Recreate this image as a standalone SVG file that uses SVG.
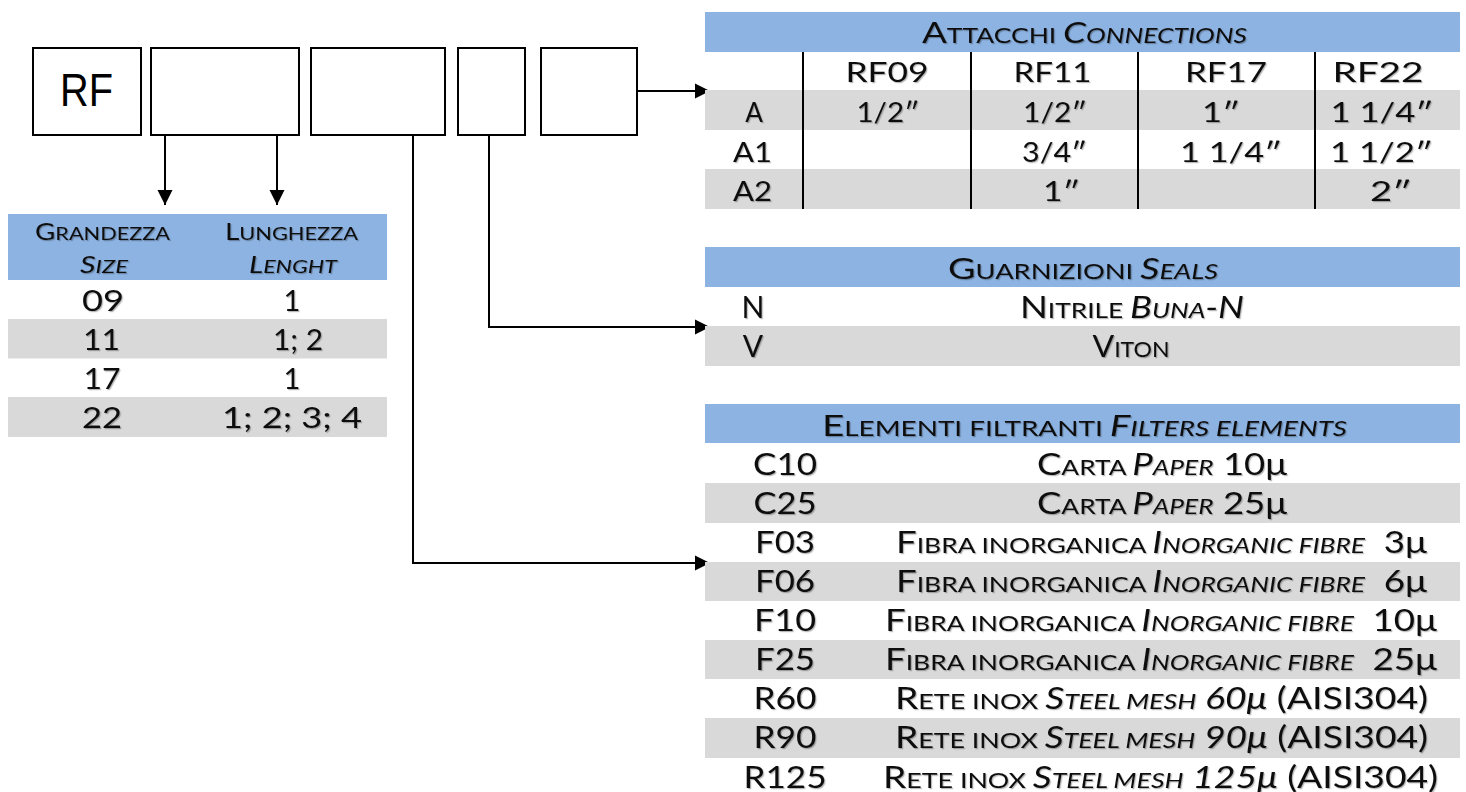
<svg xmlns="http://www.w3.org/2000/svg" width="1466" height="792" viewBox="0 0 1466 792">
<style>
.t{font-family:Lato,"Open Sans","DejaVu Sans",sans-serif;fill:#111;filter:url(#sh);text-anchor:middle}
.s{font-size:0.72em}
.ls{font-size:0.78em}
.i{font-style:italic}
.hdr{fill:#8DB3E2}
.gry{fill:#D9D9D9}
.box{fill:#fff;stroke:#000;stroke-width:2}
.ln{fill:none;stroke:#000;stroke-width:2}
.ar{marker-end:url(#arr)}
.vl{stroke:#000;stroke-width:2}
.h29{font-size:29px}
.r26{font-size:26px}
.r30{font-size:30px}
.l23{font-size:23px}
.l29{font-size:29px}
</style>
<defs>
<filter id="sh" x="-5%" y="-30%" width="110%" height="160%">
<feDropShadow dx="1.2" dy="1.2" stdDeviation="0.6" flood-color="#000" flood-opacity="0.28"/>
</filter>
<marker id="arr" markerUnits="userSpaceOnUse" markerWidth="16" markerHeight="16" refX="15" refY="8" orient="auto">
<path d="M0,0.5 L15,8 L0,15.5 z" fill="#000"/>
</marker>
</defs>

<g id="box-rf">
<rect class="box" x="33" y="48" width="108" height="87"/>
<text x="86.5" y="106" font-family="'Liberation Sans',Arial,sans-serif" font-size="47" text-anchor="middle" textLength="53" lengthAdjust="spacingAndGlyphs">RF</text>
</g>
<g id="box-size-length"><rect class="box" x="151" y="48" width="148" height="87"/></g>
<g id="box-filter"><rect class="box" x="311" y="48" width="134" height="87"/></g>
<g id="box-seal"><rect class="box" x="458" y="48" width="67" height="87"/></g>
<g id="box-connection"><rect class="box" x="541" y="48" width="96" height="87"/></g>

<g id="connectors">
<line class="ln ar" x1="165" y1="135" x2="165" y2="205"/>
<line class="ln ar" x1="277" y1="135" x2="277" y2="205"/>
<line class="ln ar" x1="637" y1="91" x2="710" y2="91"/>
<polyline class="ln ar" points="489,135 489,327 710,327"/>
<polyline class="ln ar" points="413,135 413,563 710,563"/>
</g>

<g id="table-size">
<rect class="hdr" x="8" y="214" width="379" height="66"/>
<rect class="gry" x="8" y="319" width="379" height="39.5"/>
<rect class="gry" x="8" y="397" width="379" height="40"/>
<text class="t l23" x="102.5" y="240" textLength="135" lengthAdjust="spacingAndGlyphs">G<tspan class="ls">RANDEZZA</tspan></text>
<text class="t l23 i" x="104" y="273" textLength="48" lengthAdjust="spacingAndGlyphs">S<tspan class="ls">IZE</tspan></text>
<text class="t l23" x="291.5" y="240" textLength="133" lengthAdjust="spacingAndGlyphs">L<tspan class="ls">UNGHEZZA</tspan></text>
<text class="t l23 i" x="293" y="273" textLength="88" lengthAdjust="spacingAndGlyphs">L<tspan class="ls">ENGHT</tspan></text>
<text class="t l29" x="103" y="311" textLength="42" lengthAdjust="spacingAndGlyphs">09</text>
<text class="t l29" x="292" y="311">1</text>
<text class="t l29" x="101.5" y="350" textLength="37" lengthAdjust="spacingAndGlyphs">11</text>
<text class="t l29" x="298" y="350" textLength="50" lengthAdjust="spacingAndGlyphs">1; 2</text>
<text class="t l29" x="102" y="389" textLength="37" lengthAdjust="spacingAndGlyphs">17</text>
<text class="t l29" x="292" y="389">1</text>
<text class="t l29" x="102" y="428" textLength="40" lengthAdjust="spacingAndGlyphs">22</text>
<text class="t l29" x="292" y="428" textLength="140" lengthAdjust="spacingAndGlyphs">1; 2; 3; 4</text>
</g>

<g id="table-connections">
<rect class="hdr" x="705" y="12" width="755" height="40"/>
<rect class="gry" x="705" y="90" width="755" height="40"/>
<rect class="gry" x="705" y="169" width="755" height="40"/>
<line class="vl" x1="803" y1="52" x2="803" y2="209"/>
<line class="vl" x1="971" y1="52" x2="971" y2="209"/>
<line class="vl" x1="1138" y1="52" x2="1138" y2="209"/>
<line class="vl" x1="1315" y1="52" x2="1315" y2="209"/>
<text class="t h29" x="1084.5" y="43" textLength="325" lengthAdjust="spacingAndGlyphs">A<tspan class="s">TTACCHI </tspan><tspan class="i">C<tspan class="s">ONNECTIONS</tspan></tspan></text>
<text class="t r26" x="887" y="82" textLength="83" lengthAdjust="spacingAndGlyphs">RF09</text>
<text class="t r26" x="1052.5" y="82" textLength="78" lengthAdjust="spacingAndGlyphs">RF11</text>
<text class="t r26" x="1226" y="82" textLength="82" lengthAdjust="spacingAndGlyphs">RF17</text>
<text class="t r26" x="1378" y="82" textLength="91" lengthAdjust="spacingAndGlyphs">RF22</text>
<text class="t r26" x="754" y="122">A</text>
<text class="t r26" x="888" y="122" textLength="63" lengthAdjust="spacingAndGlyphs">1/2″</text>
<text class="t r26" x="1055" y="122" textLength="64" lengthAdjust="spacingAndGlyphs">1/2″</text>
<text class="t r26" x="1221" y="122" textLength="38" lengthAdjust="spacingAndGlyphs">1″</text>
<text class="t r26" x="1382" y="122" textLength="103" lengthAdjust="spacingAndGlyphs">1 1/4″</text>
<text class="t r26" x="752.5" y="162" textLength="39" lengthAdjust="spacingAndGlyphs">A1</text>
<text class="t r26" x="1054.5" y="162" textLength="65" lengthAdjust="spacingAndGlyphs">3/4″</text>
<text class="t r26" x="1231" y="162" textLength="102" lengthAdjust="spacingAndGlyphs">1 1/4″</text>
<text class="t r26" x="1381.5" y="162" textLength="103" lengthAdjust="spacingAndGlyphs">1 1/2″</text>
<text class="t r26" x="752.5" y="201" textLength="39" lengthAdjust="spacingAndGlyphs">A2</text>
<text class="t r26" x="1061.5" y="201" textLength="37" lengthAdjust="spacingAndGlyphs">1″</text>
<text class="t r26" x="1391" y="201" textLength="42" lengthAdjust="spacingAndGlyphs">2″</text>
</g>

<g id="table-seals">
<rect class="hdr" x="705" y="247" width="755" height="40"/>
<rect class="gry" x="705" y="326" width="755" height="40"/>
<text class="t h29" x="1083" y="279" textLength="270" lengthAdjust="spacingAndGlyphs">G<tspan class="s">UARNIZIONI </tspan><tspan class="i">S<tspan class="s">EALS</tspan></tspan></text>
<text class="t r30" x="753" y="318">N</text>
<text class="t r30" x="1132" y="318" textLength="224" lengthAdjust="spacingAndGlyphs">N<tspan class="s">ITRILE </tspan><tspan class="i">B<tspan class="s">UNA</tspan>-N</tspan></text>
<text class="t r30" x="753" y="357">V</text>
<text class="t r30" x="1131" y="357" textLength="77" lengthAdjust="spacingAndGlyphs">V<tspan class="s">ITON</tspan></text>
</g>

<g id="table-filters">
<rect class="hdr" x="705" y="404" width="755" height="39"/>
<rect class="gry" x="705" y="483" width="755" height="40"/>
<rect class="gry" x="705" y="562" width="755" height="39"/>
<rect class="gry" x="705" y="640" width="755" height="39"/>
<rect class="gry" x="705" y="718" width="755" height="40"/>
<text class="t h29" x="1084.5" y="436" textLength="525" lengthAdjust="spacingAndGlyphs">E<tspan class="s">LEMENTI FILTRANTI </tspan><tspan class="i">F<tspan class="s">ILTERS ELEMENTS</tspan></tspan></text>
<text class="t r30" x="785" y="475" textLength="64" lengthAdjust="spacingAndGlyphs">C10</text>
<text class="t r30" x="785" y="514" textLength="63" lengthAdjust="spacingAndGlyphs">C25</text>
<text class="t r30" x="785" y="553" textLength="60" lengthAdjust="spacingAndGlyphs">F03</text>
<text class="t r30" x="785" y="592" textLength="60" lengthAdjust="spacingAndGlyphs">F06</text>
<text class="t r30" x="785" y="631" textLength="62" lengthAdjust="spacingAndGlyphs">F10</text>
<text class="t r30" x="785" y="670" textLength="60" lengthAdjust="spacingAndGlyphs">F25</text>
<text class="t r30" x="785" y="709" textLength="63" lengthAdjust="spacingAndGlyphs">R60</text>
<text class="t r30" x="785" y="748" textLength="63" lengthAdjust="spacingAndGlyphs">R90</text>
<text class="t r30" x="785" y="788" textLength="83" lengthAdjust="spacingAndGlyphs">R125</text>
<text class="t r30" x="1162" y="475" textLength="250" lengthAdjust="spacingAndGlyphs">C<tspan class="s">ARTA </tspan><tspan class="i">P<tspan class="s">APER</tspan></tspan> 10μ</text>
<text class="t r30" x="1162" y="514" textLength="250" lengthAdjust="spacingAndGlyphs">C<tspan class="s">ARTA </tspan><tspan class="i">P<tspan class="s">APER</tspan></tspan> 25μ</text>
<text class="t r30" x="1161.5" y="553" textLength="531" lengthAdjust="spacingAndGlyphs">F<tspan class="s">IBRA INORGANICA </tspan><tspan class="i">I<tspan class="s">NORGANIC FIBRE</tspan></tspan>&#160; 3μ</text>
<text class="t r30" x="1161.5" y="592" textLength="531" lengthAdjust="spacingAndGlyphs">F<tspan class="s">IBRA INORGANICA </tspan><tspan class="i">I<tspan class="s">NORGANIC FIBRE</tspan></tspan>&#160; 6μ</text>
<text class="t r30" x="1161" y="631" textLength="552" lengthAdjust="spacingAndGlyphs">F<tspan class="s">IBRA INORGANICA </tspan><tspan class="i">I<tspan class="s">NORGANIC FIBRE</tspan></tspan>&#160; 10μ</text>
<text class="t r30" x="1161" y="670" textLength="552" lengthAdjust="spacingAndGlyphs">F<tspan class="s">IBRA INORGANICA </tspan><tspan class="i">I<tspan class="s">NORGANIC FIBRE</tspan></tspan>&#160; 25μ</text>
<text class="t r30" x="1161.5" y="709" textLength="533" lengthAdjust="spacingAndGlyphs">R<tspan class="s">ETE INOX </tspan><tspan class="i">S<tspan class="s">TEEL MESH</tspan> 60μ</tspan> (AISI304)</text>
<text class="t r30" x="1161.5" y="748" textLength="533" lengthAdjust="spacingAndGlyphs">R<tspan class="s">ETE INOX </tspan><tspan class="i">S<tspan class="s">TEEL MESH</tspan> 90μ</tspan> (AISI304)</text>
<text class="t r30" x="1160.5" y="788" textLength="555" lengthAdjust="spacingAndGlyphs">R<tspan class="s">ETE INOX </tspan><tspan class="i">S<tspan class="s">TEEL MESH</tspan> 125μ</tspan> (AISI304)</text>
</g>
</svg>
